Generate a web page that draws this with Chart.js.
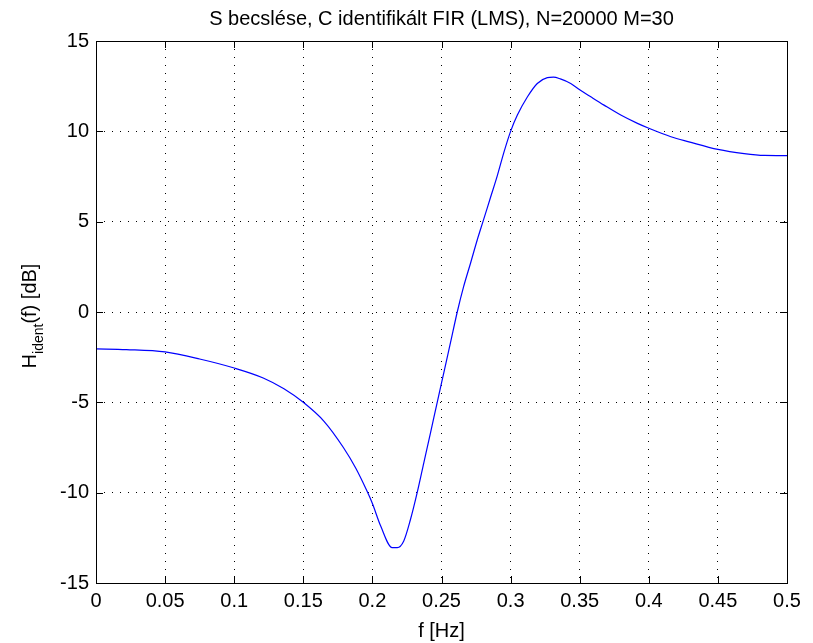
<!DOCTYPE html>
<html>
<head>
<meta charset="utf-8">
<script src="https://cdn.jsdelivr.net/npm/chart.js@4"></script>
<style>
  html, body { margin: 0; padding: 0; background: #fff; }
  #wrap { width: 813px; height: 643px; }
</style>
</head>
<body>
<div id="wrap"><canvas id="hChart"></canvas></div>
<script>
// Identified FIR magnitude response, read at selected frequencies
const freqHz = [
  0, 0.022, 0.05, 0.075, 0.1, 0.121, 0.136, 0.15, 0.165, 0.179, 0.188, 0.196,
  0.2, 0.206, 0.2143, 0.218, 0.2227, 0.2275, 0.2324, 0.2372, 0.242, 0.2469,
  0.2517, 0.2565, 0.2614, 0.266, 0.271, 0.2759, 0.28, 0.2855, 0.2904, 0.2952,
  0.3, 0.3049, 0.3121, 0.3193, 0.3266, 0.331, 0.336, 0.3435, 0.35, 0.358,
  0.3676, 0.3797, 0.3918, 0.4, 0.416, 0.429, 0.45, 0.469, 0.4836, 0.5
];
const hIdentDb = [
  -2.04, -2.08, -2.21, -2.6, -3.1, -3.65, -4.25, -5.0, -6.05, -7.5, -8.65, -9.9,
  -10.6, -11.85, -13.04, -13.04, -12.67, -11.5, -10.0, -8.35, -6.7, -5.0,
  -3.35, -1.7, 0.0, 1.4, 2.7, 4.0, 5.0, 6.35, 7.55, 8.85,
  10.0, 10.9, 11.9, 12.65, 12.97, 13.0, 12.9, 12.65, 12.3, 11.91,
  11.45, 10.9, 10.44, 10.17, 9.7, 9.42, 9.0, 8.77, 8.67, 8.66
];
const xTicks = [0, 0.05, 0.1, 0.15, 0.2, 0.25, 0.3, 0.35, 0.4, 0.45, 0.5];
const yTicks = [-15, -10, -5, 0, 5, 10, 15];

const titleText = 'S becslése, C identifikált FIR (LMS), N=20000 M=30';
const fontFamily = '"Liberation Sans", Arial, Helvetica, sans-serif';

// Box, inward tick marks on all four sides, title and the y label with subscript
const matlabAxes = {
  id: 'matlabAxes',
  afterDraw(chart) {
    const { ctx, chartArea: a, scales: { x, y } } = chart;
    const len = 7;
    ctx.save();
    ctx.strokeStyle = '#000';
    ctx.lineWidth = 1;
    ctx.beginPath();
    xTicks.forEach(v => {
      const px = Math.round(x.getPixelForValue(v)) + 0.5;
      ctx.moveTo(px, a.bottom); ctx.lineTo(px, a.bottom - len);
      ctx.moveTo(px, a.top); ctx.lineTo(px, a.top + len);
    });
    yTicks.forEach(v => {
      const py = Math.round(y.getPixelForValue(v)) + 0.5;
      ctx.moveTo(a.left, py); ctx.lineTo(a.left + len, py);
      ctx.moveTo(a.right, py); ctx.lineTo(a.right - len, py);
    });
    ctx.stroke();
    ctx.strokeRect(Math.round(a.left) + 0.5, Math.round(a.top) + 0.5,
      Math.round(a.right - a.left), Math.round(a.bottom - a.top));

    // title
    ctx.fillStyle = '#000';
    ctx.font = '20px ' + fontFamily;
    ctx.textAlign = 'center';
    ctx.textBaseline = 'alphabetic';
    ctx.fillText(titleText, (a.left + a.right) / 2, 25);

    // rotated y label: H_ident(f) [dB]
    ctx.translate(36, (a.top + a.bottom) / 2 + 4);
    ctx.rotate(-Math.PI / 2);
    ctx.textAlign = 'left';
    const big = '20px ' + fontFamily;
    const small = '14px ' + fontFamily;
    ctx.font = big;
    const wH = ctx.measureText('H').width;
    const wRest = ctx.measureText('(f) [dB]').width;
    ctx.font = small;
    const wSub = ctx.measureText('ident').width;
    let cx = -(wH + wSub + wRest) / 2;
    ctx.font = big;
    ctx.fillText('H', cx, 0);
    cx += wH;
    ctx.font = small;
    ctx.fillText('ident', cx, 7);
    cx += wSub;
    ctx.font = big;
    ctx.fillText('(f) [dB]', cx, 0);
    ctx.restore();
  }
};

function buildChart() {
  const ctx = document.getElementById('hChart');
  const points = freqHz.map((f, i) => ({ x: f, y: hIdentDb[i] }));

  new Chart(ctx, {
    type: 'line',
    data: {
      datasets: [{
        data: points,
        borderColor: '#0000ff',
        borderWidth: 1.2,
        pointRadius: 0,
        cubicInterpolationMode: 'monotone',
        fill: false
      }]
    },
    options: {
      responsive: true,
      maintainAspectRatio: false,
      animation: false,
      layout: { padding: { top: 41, right: 26, left: 0, bottom: 0 } },
      plugins: {
        legend: { display: false },
        tooltip: { enabled: false }
      },
      scales: {
        x: {
          type: 'linear',
          min: 0,
          max: 0.5,
          afterBuildTicks: s => { s.ticks = xTicks.map(v => ({ value: v })); },
          afterFit: s => { s.height = 60; },
          ticks: {
            color: '#000',
            padding: 6,
            maxRotation: 0,
            font: { family: fontFamily, size: 20 },
            callback: v => String(v)
          },
          grid: {
            color: '#000',
            lineWidth: 1,
            drawTicks: false
          },
          border: { display: false, dash: [1, 7] },
          title: {
            display: true,
            text: 'f [Hz]',
            color: '#000',
            padding: { top: 2, bottom: 0 },
            font: { family: fontFamily, size: 20 }
          }
        },
        y: {
          min: -15,
          max: 15,
          afterBuildTicks: s => { s.ticks = yTicks.map(v => ({ value: v })); },
          afterFit: s => { s.width = 96; },
          ticks: {
            color: '#000',
            padding: 7,
            font: { family: fontFamily, size: 20 },
            callback: v => String(v)
          },
          grid: {
            color: '#000',
            lineWidth: 1,
            drawTicks: false
          },
          border: { display: false, dash: [1, 7] }
        }
      }
    },
    plugins: [matlabAxes]
  });
}

document.addEventListener('DOMContentLoaded', buildChart);
</script>
</body>
</html>
